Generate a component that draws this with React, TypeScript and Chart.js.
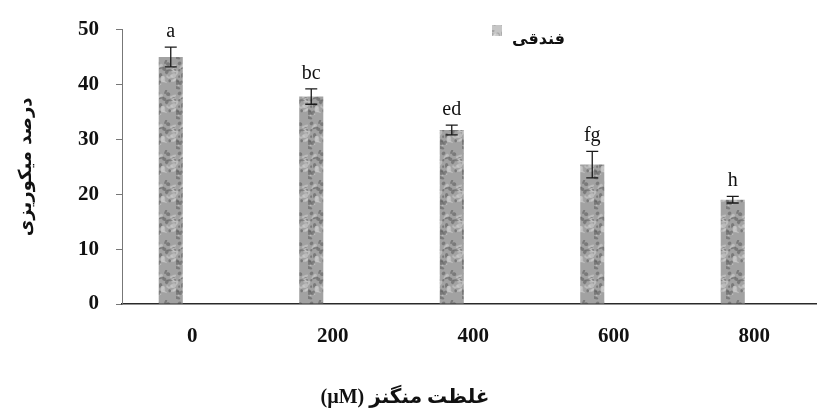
import React, { useEffect, useRef } from "react";
import { Chart, registerables } from "chart.js";

Chart.register(...registerables);

// ---- data ----
const categories = ["0", "200", "400", "600", "800"];
const mycorrhiza = [45.0, 37.8, 31.7, 25.4, 19.0];
const errors = [1.8, 1.4, 0.9, 2.4, 0.6];
const letters = ["a", "bc", "ed", "fg", "h"];
const yTickValues = [0, 10, 20, 30, 40, 50];
const seriesName = "فندقی";
const yTitle = "درصد میکوریزی";
const xTitle = "غلظت منگنز (µM)";

function makeTexture(base: string, dark: string, light: string, seed: number) {
  const c = document.createElement("canvas");
  c.width = 22;
  c.height = 30;
  const g = c.getContext("2d")!;
  g.fillStyle = base;
  g.fillRect(0, 0, c.width, c.height);
  let s = seed;
  const rnd = () => {
    s = (s * 16807) % 2147483647;
    return s / 2147483647;
  };
  for (let i = 0; i < 34; i++) {
    g.globalAlpha = 0.55;
    g.fillStyle = i % 2 ? dark : light;
    g.beginPath();
    g.ellipse(rnd() * c.width, rnd() * c.height, 1 + rnd() * 2.6, 0.8 + rnd() * 1.6, rnd() * 3, 0, Math.PI * 2);
    g.fill();
  }
  g.globalAlpha = 1;
  return g.createPattern(c, "repeat")!;
}

const overlay = {
  id: "overlay",
  afterDatasetsDraw(chart: any) {
    const ctx: CanvasRenderingContext2D = chart.ctx;
    const meta = chart.getDatasetMeta(0);
    const y = chart.scales.y;
    ctx.save();
    meta.data.forEach((bar: any, i: number) => {
      const v = mycorrhiza[i];
      const e = errors[i];
      const x = bar.x;
      const top = y.getPixelForValue(v + e);
      const bot = y.getPixelForValue(v - e);
      ctx.strokeStyle = "#1a1a1a";
      ctx.lineWidth = 1.3;
      ctx.beginPath();
      ctx.moveTo(x, top);
      ctx.lineTo(x, bot);
      ctx.moveTo(x - 6, top);
      ctx.lineTo(x + 6, top);
      ctx.moveTo(x - 6, bot);
      ctx.lineTo(x + 6, bot);
      ctx.stroke();
      ctx.fillStyle = "#111";
      ctx.font = '20px "Liberation Serif"';
      ctx.textAlign = "center";
      ctx.textBaseline = "alphabetic";
      ctx.fillText(letters[i], x, top - 10);
    });

    // legend (drawn inside the plot, as in the reference)
    ctx.fillStyle = (chart as any)._legendPattern || "#c4c4c4";
    ctx.fillRect(492, 25, 10, 11);
    ctx.fillStyle = "#111";
    ctx.font = 'bold 16px "DejaVu Sans"';
    ctx.textAlign = "left";
    ctx.textBaseline = "middle";
    ctx.fillText(seriesName, 512, 40);

    // x-axis title
    (ctx as any).direction = "rtl";
    ctx.font = 'bold 20px "Liberation Serif", "DejaVu Sans"';
    ctx.textAlign = "center";
    ctx.textBaseline = "middle";
    ctx.fillText(xTitle, 405, 398);
    ctx.restore();
  },
};

export default function App() {
  const ref = useRef<HTMLCanvasElement>(null);

  useEffect(() => {
    document.body.style.margin = "0";
    document.body.style.overflow = "hidden";
    const canvas = ref.current!;
    const barTexture = makeTexture("#a2a2a2", "#5a5a5a", "#d0d0d0", 12345);
    const legendTexture = makeTexture("#c6c6c6", "#8a8a8a", "#e6e6e6", 777);

    const common = { categoryPercentage: 0.612, barPercentage: 0.56 };
    const chart = new Chart(canvas, {
      type: "bar",
      data: {
        labels: categories,
        datasets: [
          { label: seriesName, data: mycorrhiza, backgroundColor: barTexture, borderWidth: 0, ...common },
          { label: "", data: categories.map(() => null), backgroundColor: "transparent", ...common },
        ],
      },
      options: {
        responsive: false,
        animation: false,
        devicePixelRatio: 1,
        layout: { padding: { top: 24, right: 1.5, left: 0, bottom: 0 } },
        plugins: {
          legend: { display: false },
          tooltip: { enabled: false },
          title: { display: false },
        },
        scales: {
          x: {
            type: "category",
            offset: true,
            grid: { display: false, drawTicks: false },
            border: { display: true, color: "#2a2a2a", width: 1.6 },
            ticks: {
              color: "#111",
              padding: 20,
              font: { family: '"Liberation Serif"', size: 21, weight: "bold" },
              maxRotation: 0,
            },
            afterFit: (s: any) => {
              s.height = 108;
            },
          },
          y: {
            min: yTickValues[0],
            max: yTickValues[yTickValues.length - 1],
            ticks: {
              stepSize: yTickValues[1] - yTickValues[0],
              color: "#111",
              padding: 17,
              font: { family: '"Liberation Serif"', size: 21, weight: "bold" },
            },
            grid: { display: true, drawOnChartArea: false, drawTicks: true, tickLength: 6, color: "#777" },
            border: { display: true, color: "#777", width: 1 },
            title: {
              display: true,
              text: yTitle,
              color: "#111",
              font: { family: '"DejaVu Sans"', size: 18, weight: "bold" },
              padding: { top: 16, bottom: 0 },
            },
            afterFit: (s: any) => {
              s.width = 122;
            },
          },
        },
      } as any,
      plugins: [overlay],
    });
    (chart as any)._legendPattern = legendTexture;
    chart.draw();
    return () => chart.destroy();
  }, []);

  return (
    <div style={{ width: 817, height: 412, overflow: "hidden", position: "relative", background: "#fff" }}>
      <canvas ref={ref} width={826} height={412} style={{ display: "block" }} />
    </div>
  );
}
